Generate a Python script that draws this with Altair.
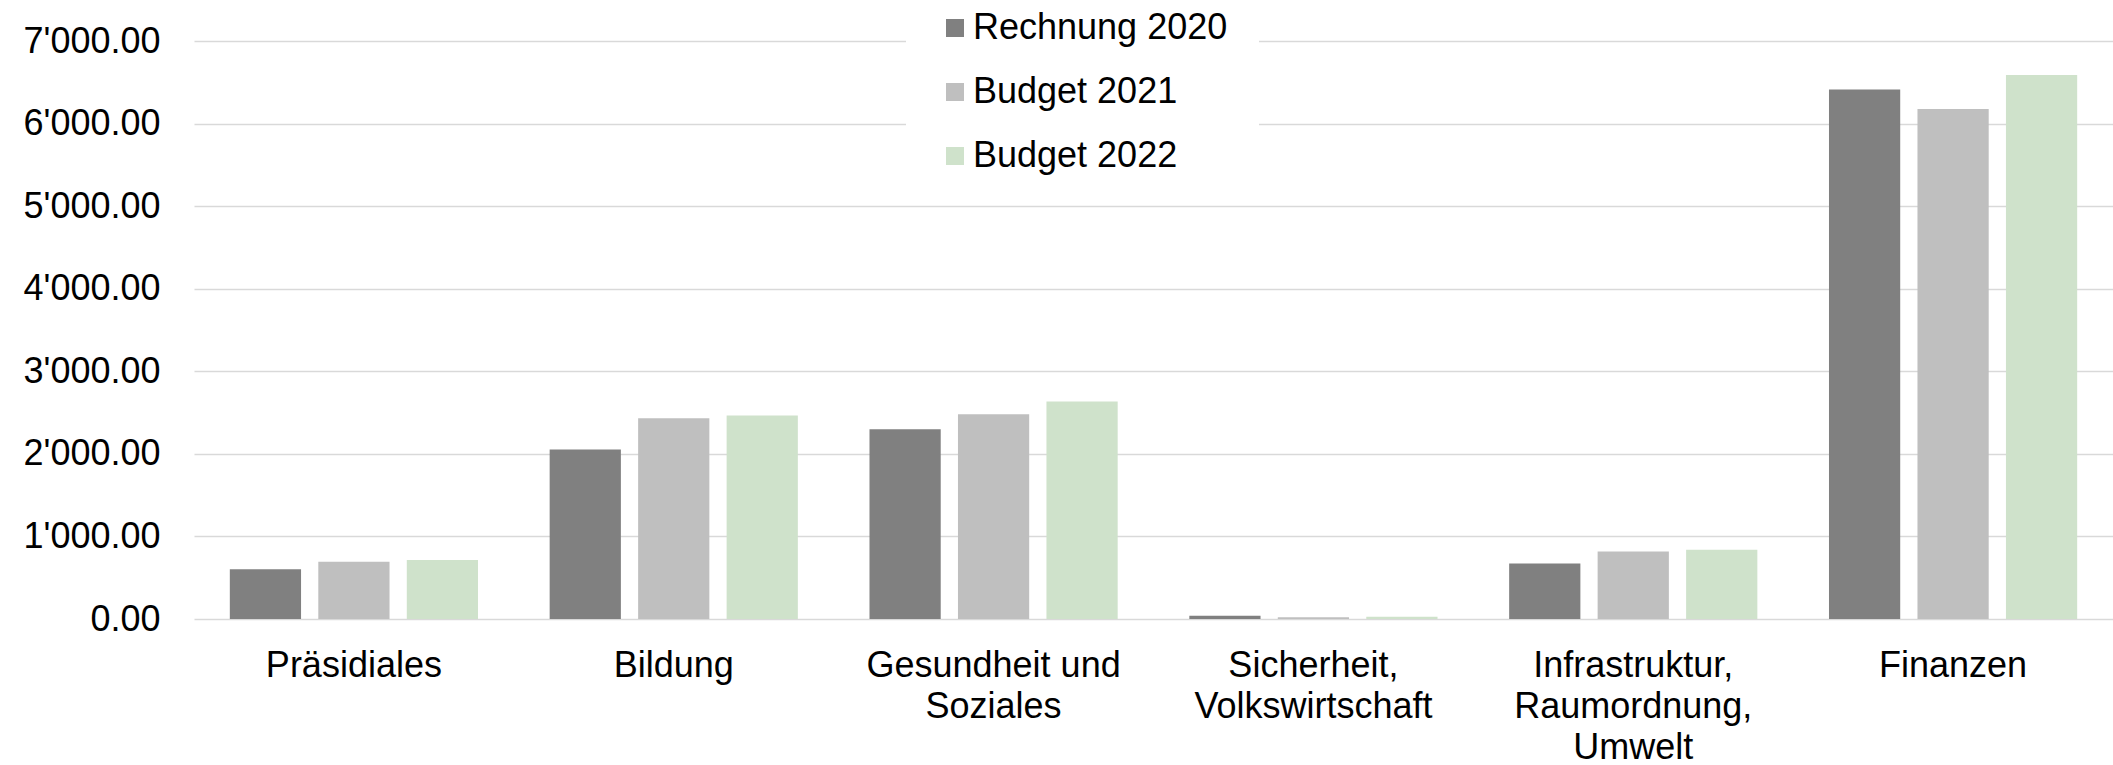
import altair as alt
import pandas as pd

# Categories (line breaks as in the reference axis labels)
categories = [
    "Präsidiales",
    "Bildung",
    "Gesundheit und\nSoziales",
    "Sicherheit,\nVolkswirtschaft",
    "Infrastruktur,\nRaumordnung,\nUmwelt",
    "Finanzen",
]
series = ["Rechnung 2020", "Budget 2021", "Budget 2022"]

rechnung_2020 = [601, 2052, 2298, 38, 672, 6413]
budget_2021 = [694, 2431, 2480, 22, 816, 6177]
budget_2022 = [714, 2464, 2633, 28, 839, 6589]

colors = ["#808080", "#bfbfbf", "#cfe2cb"]
y_ticks = [0, 1000, 2000, 3000, 4000, 5000, 6000, 7000]

rows = []
for name, vals in zip(series, [rechnung_2020, budget_2021, budget_2022]):
    for cat, v in zip(categories, vals):
        rows.append({"Bereich": cat, "Serie": name, "Wert": v})
df = pd.DataFrame(rows)

chart = (
    alt.Chart(df)
    .mark_bar()
    .encode(
        x=alt.X(
            "Bereich:N",
            sort=categories,
            scale=alt.Scale(paddingInner=0.224, paddingOuter=0.112),
            axis=alt.Axis(
                title=None,
                labelExpr="split(datum.label, '\\n')",
                labelFontSize=36,
                labelPadding=29,
                labelLineHeight=41,
                labelAngle=0,
                labelColor="#000000",
                labelLimit=1000,
                ticks=False,
                domain=False,
                grid=False,
            ),
        ),
        xOffset=alt.XOffset(
            "Serie:N",
            sort=series,
            scale=alt.Scale(paddingInner=0.195, paddingOuter=0),
        ),
        y=alt.Y(
            "Wert:Q",
            scale=alt.Scale(domain=[0, 7000], nice=False),
            axis=alt.Axis(
                values=y_ticks,
                title=None,
                labelExpr="replace(format(datum.value, ',.2f'), ',', \"'\")",
                labelFontSize=36,
                labelPadding=34,
                labelColor="#000000",
                ticks=False,
                domain=False,
                grid=True,
                gridColor="#d9d9d9",
                gridWidth=1.5,
            ),
        ),
        color=alt.Color(
            "Serie:N",
            sort=series,
            scale=alt.Scale(domain=series, range=colors),
            legend=alt.Legend(
                title=None,
                orient="none",
                legendX=712,
                legendY=-62,
                fillColor="white",
                padding=31,
                symbolType="square",
                symbolSize=324,
                symbolStrokeWidth=0,
                symbolOpacity=1,
                labelFontSize=36,
                labelOffset=0,
                rowPadding=28,
                labelColor="#000000",
                labelLimit=500,
            ),
        ),
    )
    .properties(
        width=1919,
        height=578,
        autosize=alt.AutoSizeParams(type="none"),
        padding={"left": 194, "top": 41, "right": 0, "bottom": 146},
    )
    .configure(font="Liberation Sans")
    .configure_view(stroke=None)
)

chart.save("out.html", embed_options={"renderer": "svg", "actions": False})
